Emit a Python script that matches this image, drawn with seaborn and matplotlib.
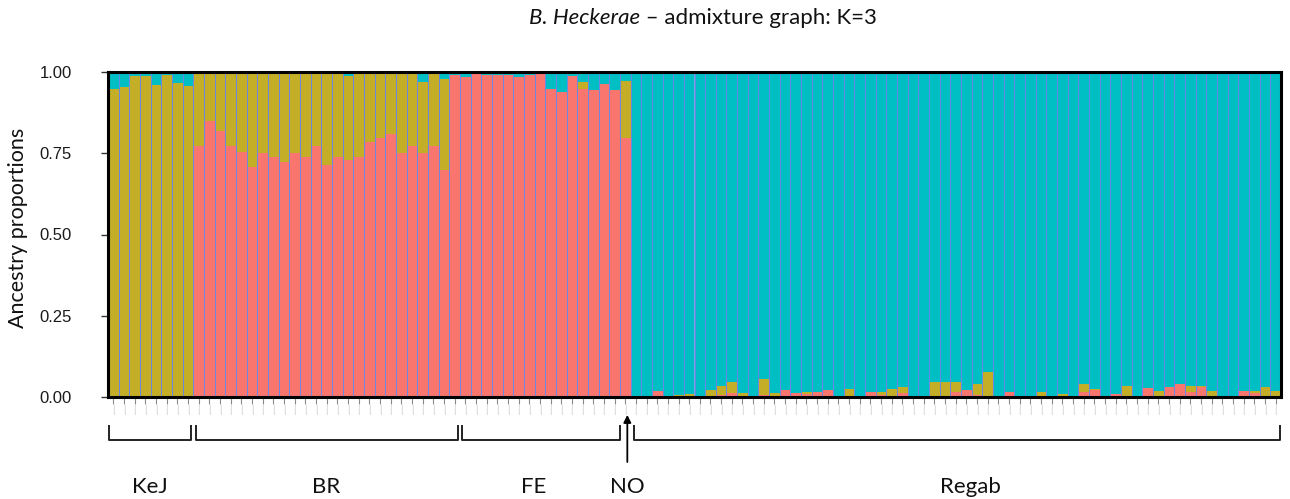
import numpy as np
import pandas as pd
import seaborn as sns
import matplotlib.pyplot as plt
from matplotlib.transforms import blended_transform_factory

# ---------------- data (ancestry proportions per individual) ----------------
groups = ["KeJ", "BR", "FE", "NO", "Regab"]

# cluster 1 (salmon) and cluster 2 (olive); cluster 3 (cyan) is the remainder
kej_red = [0, 0, 0, 0, 0, 0, 0, 0]
kej_yellow = [0.947, 0.955, 0.989, 0.989, 0.960, 0.990, 0.967, 0.957]

br_red = [0.772, 0.850, 0.819, 0.772, 0.755, 0.709, 0.750, 0.740, 0.724, 0.750,
          0.739, 0.772, 0.714, 0.739, 0.730, 0.739, 0.786, 0.796, 0.809, 0.750,
          0.772, 0.750, 0.772, 0.700]
br_yellow = [0.228, 0.150, 0.181, 0.228, 0.245, 0.286, 0.250, 0.260, 0.276, 0.250,
             0.261, 0.228, 0.286, 0.261, 0.258, 0.261, 0.214, 0.204, 0.191, 0.250,
             0.228, 0.218, 0.228, 0.280]

fe_red = [0.990, 0.985, 0.995, 0.990, 0.990, 0.990, 0.985, 0.990, 1.000, 0.947,
          0.937, 0.988, 0.947, 0.945, 0.963, 0.945]
fe_yellow = [0, 0, 0, 0, 0, 0, 0, 0, 0, 0, 0, 0, 0.023, 0, 0, 0]

no_red = [0.796]
no_yellow = [0.177]

regab_red = [0, 0, 0.020, 0, 0, 0, 0, 0.004, 0.006, 0.011,
             0, 0, 0.005, 0.004, 0.022, 0.011, 0.008, 0.014, 0.022, 0,
             0, 0, 0.016, 0.005, 0.004, 0.011, 0, 0, 0, 0,
             0.014, 0.022, 0.006, 0, 0, 0.014, 0, 0, 0, 0,
             0, 0.004, 0.014, 0.022, 0, 0.008, 0, 0.003, 0.027, 0,
             0.030, 0.040, 0.016, 0.030, 0, 0, 0, 0.019, 0.011, 0,
             0]
regab_yellow = [0, 0, 0, 0, 0.006, 0.009, 0, 0.018, 0.029, 0.034,
                0.011, 0, 0.050, 0.008, 0, 0, 0.008, 0, 0, 0.004,
                0.024, 0, 0, 0.009, 0.020, 0.019, 0, 0, 0.047, 0.045,
                0.031, 0, 0.034, 0.076, 0, 0, 0, 0.003, 0.016, 0,
                0.008, 0, 0.026, 0.004, 0.003, 0, 0.035, 0, 0, 0.019,
                0, 0, 0.019, 0.005, 0.019, 0, 0, 0, 0.008, 0.030,
                0.019]

y_ticks = [0.00, 0.25, 0.50, 0.75, 1.00]
y_ticklabels = ["0.00", "0.25", "0.50", "0.75", "1.00"]

# ---------------- build table ----------------
reds = [kej_red, br_red, fe_red, no_red, regab_red]
yels = [kej_yellow, br_yellow, fe_yellow, no_yellow, regab_yellow]
rows = []
for g, r_list, y_list in zip(groups, reds, yels):
    for i, (r, y) in enumerate(zip(r_list, y_list)):
        rows.append({"sample": f"{g}_{i+1}", "pop": g, "red": r, "yellow": y})
df = pd.DataFrame(rows)
df["cyan"] = 1 - df["red"] - df["yellow"]
df["top_yellow"] = df["red"] + df["yellow"]
df["top_cyan"] = df["top_yellow"] + df["cyan"]
order = list(df["sample"])
n = len(order)

RED = "#F8766D"
YEL = "#C4AE28"
CYAN = "#00BFC4"
EDGE = "#6A88E6"

sns.set_theme(style="white")
plt.rcParams['font.family'] = ['Liberation Sans', 'DejaVu Sans']

fig = plt.figure(figsize=(12.9, 4.99), dpi=100)
ax = fig.add_axes([108 / 1290, 1 - 397 / 499, (1281 - 108) / 1290, 325 / 499])

for col, c in [("top_cyan", CYAN), ("top_yellow", YEL), ("red", RED)]:
    sns.barplot(data=df, x="sample", y=col, order=order, color=c, width=1.0,
                saturation=1, linewidth=0, errorbar=None, ax=ax)
# thin blue separators between individuals
sns.barplot(data=df, x="sample", y="top_cyan", order=order, color=EDGE, width=1.0,
            saturation=1, fill=False, linewidth=0.6, errorbar=None, ax=ax)

ax.set_xlim(-0.5, n - 0.5)
ax.set_ylim(0, 1)
ax.set_xlabel("")
ax.set_ylabel("")
ax.set_yticks(y_ticks)
ax.set_yticklabels(y_ticklabels)
ax.set_xticks(range(n))
ax.set_xticklabels(["|"] * n)
ax.tick_params(axis="y", length=5, width=1, color="#333333", labelsize=12,
               pad=21, labelcolor="#1a1a1a", left=True)
ax.tick_params(axis="x", length=5, width=0.8, color="#8a8a8a", labelsize=7,
               labelcolor="#cfcfcf", pad=1, bottom=True)
for s in ax.spines.values():
    s.set_visible(True)
    s.set_color("black")
    s.set_linewidth(2.2)

# brackets under the populations
trans = blended_transform_factory(ax.transData, ax.transAxes)
brackets = [(-0.45, 7.3), (7.75, 32.3), (32.7, 47.5), (48.85, 109.4)]
yv, yh = -0.086, -0.132
for x0, x1 in brackets:
    ax.plot([x0, x0, x1, x1], [yv, yh, yh, yv], color="#222222", lw=1.4,
            transform=trans, clip_on=False, solid_capstyle="butt")
ax.annotate("", xy=(48.2, -0.055), xytext=(48.2, -0.2), xycoords=trans,
            textcoords=trans,
            arrowprops=dict(arrowstyle="-|>", color="black", lw=1.3,
                            mutation_scale=11, shrinkA=0, shrinkB=0))

label_x = [3.44, 20.0, 39.4, 48.2, 80.4]
for g, x in zip(groups, label_x):
    ax.text(x, -0.277, g, transform=trans, ha="center", va="center",
            fontsize=16, family=["Lato", "DejaVu Sans"], color="#111111")

fig.text(18 / 1290, 1 - 228 / 499, "Ancestry proportions", rotation=90,
         ha="center", va="center", fontsize=15.5, family=["Lato", "DejaVu Sans"],
         color="#111111")

xt = 640 / 1290
fig.text(xt, 1 - 18 / 499, "B. Heckerae", ha="right", va="center", fontsize=16,
         style="italic", family=["Lato", "DejaVu Sans"], color="#111111")
fig.text(xt, 1 - 18 / 499, " \u2013 admixture graph: K=3", ha="left", va="center",
         fontsize=16, family=["Lato", "DejaVu Sans"], color="#111111")

fig.savefig("out.png", dpi=100)
